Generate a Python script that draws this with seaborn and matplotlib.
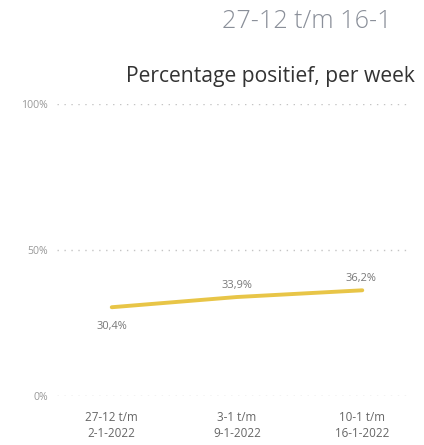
import matplotlib
matplotlib.use("Agg")
import matplotlib.pyplot as plt
import pandas as pd
import seaborn as sns

# data
weeks = ["27-12 t/m\n2-1-2022", "3-1 t/m\n9-1-2022", "10-1 t/m\n16-1-2022"]
pct_positive = [30.4, 33.9, 36.2]
value_labels = ["30,4%", "33,9%", "36,2%"]
y_ticks = [0, 50, 100]
y_tick_labels = ["0%", "50%", "100%"]
title = "Percentage positief, per week"
period = "27-12 t/m 16-1"

df = pd.DataFrame({"pos": range(len(weeks)), "pct": pct_positive})

sns.set_theme(style="white")
plt.rcParams["font.family"] = ["Open Sans", "DejaVu Sans"]

W, H = 424, 445
fig = plt.figure(figsize=(W / 100, H / 100), dpi=100)
ax = fig.add_axes([57 / W, (H - 396) / H, (408 - 57) / W, (396 - 104) / H])

line_color = "#E8C547"
sns.lineplot(data=df, x="pos", y="pct", ax=ax, color=line_color, linewidth=2.8)
for ln in ax.lines:
    ln.set_color(line_color)
    ln.set_solid_capstyle("round")

ax.set_xlim(-0.437, 2.365)
ax.set_ylim(0, 100)
ax.set_yticks(y_ticks)
ax.set_yticklabels(y_tick_labels)
ax.set_xticks(range(len(weeks)))
ax.set_xticklabels(weeks, linespacing=1.3)
ax.tick_params(axis="y", length=0, pad=6.5, labelsize=7, labelcolor="#999999")
ax.tick_params(axis="x", length=0, pad=11, labelsize=8, labelcolor="#666666")
ax.set_xlabel("")
ax.set_ylabel("")
for s in ax.spines.values():
    s.set_visible(False)
ax.yaxis.grid(True, color="#c4c4c4", linestyle=(0, (1, 4)), linewidth=1.0)
ax.xaxis.grid(False)

# value labels (offsets in pixels from the point)
offsets = [(0, -19), (0, 12), (-1, 12)]
val_texts = []
for i, (v, lab) in enumerate(zip(pct_positive, value_labels)):
    t = ax.annotate(lab, (i, v), xytext=offsets[i], textcoords="offset pixels",
                    ha="center", va="center", fontsize=8, color="#777777")
    val_texts.append(t)

t_title = fig.text(415 / W, (H - 82) / H, title, ha="right", va="baseline",
                   fontsize=15, color="#333333")
t_period = fig.text(307 / W, (H - 28) / H, period, ha="center", va="baseline",
                    fontsize=17, color="#8a8f99", fontweight="light")

# scale font sizes so text widths match the reference (px)
fig.canvas.draw()
r = fig.canvas.get_renderer()


def scale(t, target):
    return t.get_fontsize() * target / t.get_window_extent(r).width


t_title.set_fontsize(scale(t_title, 290))
t_period.set_fontsize(scale(t_period, 170))
vs = scale(val_texts[0], 31)
for t in val_texts:
    t.set_fontsize(vs)
ax.tick_params(axis="x", labelsize=scale(ax.get_xticklabels()[0], 53))
ax.tick_params(axis="y", labelsize=scale(ax.get_yticklabels()[2], 27))

# put the x label block centre at y=425.5 px from top
fig.canvas.draw()
bb = ax.get_xticklabels()[0].get_window_extent(r)
shift = (bb.y0 + bb.y1) / 2 - (H - 425.5)
ax.tick_params(axis="x", pad=11 + shift * 72 / 100)

fig.savefig("out.png", dpi=100)
